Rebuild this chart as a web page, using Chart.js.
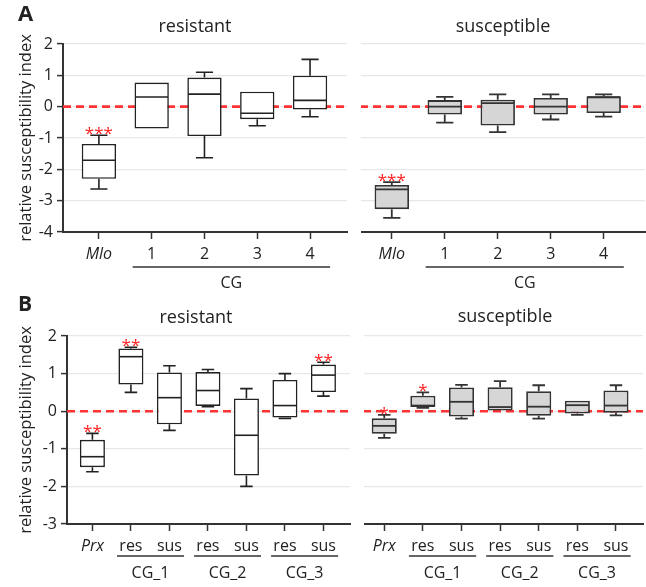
<!DOCTYPE html>
<html>
<head>
<meta charset="utf-8">
<title>relative susceptibility index</title>
<script src="https://cdn.jsdelivr.net/npm/chart.js@4.4.0/dist/chart.umd.min.js"></script>
<style>
    html, body { margin: 0; padding: 0; background: #fff; }
    #page { position: relative; width: 646px; height: 587px; overflow: hidden; font-family: 'Open Sans', sans-serif; color: #222; }
    canvas { position: absolute; }
    .letter { position: absolute; font-weight: 700; line-height: 1; }
    .title { position: absolute; font-size: 18px; line-height: 1; transform: translate(-50%, -50%); white-space: nowrap; }
</style>
</head>
<body>
<div id="page">
    <canvas id="aRes" width="352" height="295" style="left:0;top:0;clip-path:inset(0 3px 0 0)"></canvas>
    <canvas id="aSus" width="294" height="295" style="left:352px;top:0;clip-path:inset(0 0 0 9px)"></canvas>
    <canvas id="bRes" width="352" height="292" style="left:0;top:295px;clip-path:inset(0 1px 0 0)"></canvas>
    <canvas id="bSus" width="294" height="292" style="left:352px;top:295px;clip-path:inset(0 0 0 12px)"></canvas>

    <div class="letter" style="left:18px;top:1px;font-size:22px">A</div>
    <div class="title" style="left:195px;top:25px">resistant</div>
    <div class="title" style="left:503px;top:25px">susceptible</div>
    <div class="letter" style="left:18px;top:293px;font-size:21px">B</div>
    <div class="title" style="left:196px;top:316px">resistant</div>
    <div class="title" style="left:505px;top:315px">susceptible</div>
</div>
<script>
// x categories
const mloLabels = ['Mlo', '1', '2', '3', '4'];
const prxLabels = ['Prx', 'res', 'sus', 'res', 'sus', 'res', 'sus'];

// group labels under the x axis: [label, first index, last index]
const aGroups = [['CG', 1, 4]];
const bGroups = [['CG_1', 1, 2], ['CG_2', 3, 4], ['CG_3', 5, 6]];

// y axis range
const aTicks = [2, 1, 0, -1, -2, -3, -4];
const bTicks = [2, 1, 0, -1, -2, -3];

// box values, one row per category: [min, q1, median, q3, max]
const aResistant = [
    [-2.63, -2.30, -1.71, -1.19, -0.91],
    [-0.70, -0.70, 0.31, 0.77, 0.77],
    [-1.63, -0.94, 0.40, 0.93, 1.10],
    [-0.61, -0.40, -0.21, 0.48, 0.48],
    [-0.32, -0.09, 0.20, 0.99, 1.51]
];
const aSusceptible = [
    [-3.55, -3.27, -2.64, -2.50, -2.41],
    [-0.51, -0.25, 0.00, 0.21, 0.31],
    [-0.81, -0.60, 0.11, 0.22, 0.39],
    [-0.41, -0.25, 0.00, 0.28, 0.39],
    [-0.32, -0.20, 0.30, 0.33, 0.39]
];
const bResistant = [
    [-1.61, -1.49, -1.21, -0.76, -0.59],
    [0.50, 0.71, 1.45, 1.67, 1.70],
    [-0.51, -0.35, 0.36, 1.03, 1.21],
    [0.12, 0.14, 0.55, 1.04, 1.11],
    [-2.00, -1.71, -0.64, 0.34, 0.60],
    [-0.19, -0.17, 0.15, 0.83, 1.00],
    [0.40, 0.51, 0.96, 1.24, 1.30]
];
const bSusceptible = [
    [-0.71, -0.60, -0.39, -0.19, -0.10],
    [0.09, 0.11, 0.15, 0.41, 0.50],
    [-0.20, -0.14, 0.25, 0.63, 0.70],
    [0.02, 0.02, 0.11, 0.64, 0.80],
    [-0.20, -0.12, 0.12, 0.53, 0.69],
    [-0.10, -0.06, 0.16, 0.28, 0.28],
    [-0.11, -0.04, 0.15, 0.55, 0.69]
];

// significance marks above each box
const aResStars = ['***', '', '', '', ''];
const aSusStars = ['***', '', '', '', ''];
const bResStars = ['**', '**', '', '', '', '', '**'];
const bSusStars = ['*', '*', '', '', '', '', ''];

const FONT = "'Open Sans', sans-serif";

// Whiskers, medians, stars and the group labels below the axis
const boxWhiskerPlugin = {
    id: 'boxWhisker',
    afterDatasetsDraw(chart, args, opts) {
        const { ctx } = chart;
        const yScale = chart.scales.y;
        const meta = chart.getDatasetMeta(0);
        const lw = opts.lineWidth;

        ctx.save();
        ctx.strokeStyle = opts.stroke;
        ctx.lineWidth = lw;
        meta.data.forEach((bar, i) => {
            const [min, q1, med, q3, max] = opts.stats[i];
            const { x, width } = bar.getProps(['x', 'width'], true);
            const half = width / 2 - lw / 2;
            const cap = width / 4;
            const yMin = yScale.getPixelForValue(min);
            const yQ1 = yScale.getPixelForValue(q1);
            const yMed = yScale.getPixelForValue(med);
            const yQ3 = yScale.getPixelForValue(q3);
            const yMax = yScale.getPixelForValue(max);

            // median
            ctx.beginPath();
            ctx.moveTo(x - half, yMed);
            ctx.lineTo(x + half, yMed);
            ctx.stroke();

            // whiskers with caps
            if (max > q3) {
                ctx.beginPath();
                ctx.moveTo(x, yQ3);
                ctx.lineTo(x, yMax);
                ctx.moveTo(x - cap, yMax);
                ctx.lineTo(x + cap, yMax);
                ctx.stroke();
            }
            if (min < q1) {
                ctx.beginPath();
                ctx.moveTo(x, yQ1);
                ctx.lineTo(x, yMin);
                ctx.moveTo(x - cap, yMin);
                ctx.lineTo(x + cap, yMin);
                ctx.stroke();
            }

            if (opts.stars[i]) {
                ctx.fillStyle = '#ff2020';
                ctx.font = '17px ' + FONT;
                ctx.textAlign = 'center';
                ctx.textBaseline = 'alphabetic';
                ctx.fillText(opts.stars[i], x, yMax + 4);
            }
        });
        ctx.restore();
    },
    afterDraw(chart, args, opts) {
        const { ctx } = chart;
        const xScale = chart.scales.x;
        ctx.save();
        ctx.strokeStyle = '#333';
        ctx.lineWidth = 1.5;
        ctx.fillStyle = '#222';
        ctx.font = '16px ' + FONT;
        ctx.textAlign = 'center';
        ctx.textBaseline = 'middle';
        opts.groups.forEach(([label, from, to]) => {
            const x0 = xScale.getPixelForValue(from - 0.36);
            const x1 = xScale.getPixelForValue(to + 0.38);
            const yLine = xScale.top + opts.lineOffset;
            ctx.beginPath();
            ctx.moveTo(x0, yLine);
            ctx.lineTo(x1, yLine);
            ctx.stroke();
            ctx.fillText(label, (x0 + x1) / 2, xScale.top + opts.labelOffset);
        });
        ctx.restore();
    }
};

function makePanel(canvasId, p) {
    const canvas = document.getElementById(canvasId);
    const ctx = canvas.getContext('2d');

    const yAxis = {
        min: p.ticks[p.ticks.length - 1],
        max: p.ticks[0],
        afterFit: (scale) => { scale.width = p.yWidth; },
        grid: { color: '#e8e8e8', lineWidth: 1.2, drawTicks: false },
        ticks: { display: false, stepSize: 1 },
        border: { display: false }
    };
    if (p.showY) {
        yAxis.border = { display: true, color: '#333', width: 2 };
        yAxis.grid = { color: '#e8e8e8', lineWidth: 1.2, drawTicks: true, tickLength: 6, tickColor: '#333', tickWidth: 1.5 };
        yAxis.ticks = { display: true, stepSize: 1, padding: 4, color: '#222', font: { family: FONT, size: 16 } };
        yAxis.title = {
            display: true,
            text: 'relative susceptibility index',
            color: '#222',
            font: { family: FONT, size: 16.5 },
            padding: { top: 16, bottom: 0 }
        };
    }

    return new Chart(ctx, {
        type: 'bar',
        data: {
            datasets: [
                {
                    label: 'box',
                    data: p.stats.map((s, i) => ({ x: i, y: [s[1], s[3]] })),
                    backgroundColor: p.fill,
                    borderColor: p.stroke,
                    borderWidth: p.lineWidth,
                    borderSkipped: false,
                    barPercentage: 0.65,
                    categoryPercentage: 1,
                    order: 1
                },
                {
                    type: 'line',
                    label: 'zero',
                    data: [{ x: p.xMin, y: 0 }, { x: p.xMax, y: 0 }],
                    borderColor: '#ff3333',
                    borderWidth: 2.6,
                    borderDash: [8, 5],
                    pointRadius: 0,
                    order: 2
                }
            ]
        },
        options: {
            responsive: false,
            animation: false,
            layout: { padding: p.padding },
            plugins: {
                legend: { display: false },
                tooltip: { enabled: false },
                boxWhisker: {
                    stats: p.stats,
                    stars: p.stars,
                    groups: p.groups,
                    stroke: p.stroke,
                    lineWidth: p.lineWidth,
                    lineOffset: p.lineOffset,
                    labelOffset: p.labelOffset
                }
            },
            scales: {
                x: {
                    type: 'linear',
                    offset: false,
                    min: p.xMin,
                    max: p.xMax,
                    afterFit: (scale) => { scale.height = p.xHeight; },
                    border: { color: '#333', width: 2 },
                    grid: { offset: false, drawOnChartArea: false, tickLength: 7, tickColor: '#333', tickWidth: 1.5 },
                    ticks: {
                        stepSize: 1,
                        includeBounds: false,
                        autoSkip: false,
                        maxRotation: 0,
                        padding: 6,
                        color: '#222',
                        font: (c) => ({ family: FONT, size: 16, style: c.index === 0 ? 'italic' : 'normal' }),
                        callback: (v) => p.labels[v] !== undefined ? p.labels[v] : ''
                    }
                },
                y: yAxis
            }
        },
        plugins: [boxWhiskerPlugin]
    });
}

const whiteBox = { fill: '#ffffff', stroke: '#222', lineWidth: 1.6 };
const greyBox = { fill: '#d6d6d6', stroke: '#333', lineWidth: 1.8 };

makePanel('aRes', Object.assign({
    stats: aResistant, stars: aResStars, labels: mloLabels, groups: aGroups, ticks: aTicks,
    xMin: -0.68, xMax: 4.7, showY: true, yWidth: 63, xHeight: 63,
    padding: { top: 44, right: 5, bottom: 0, left: 0 },
    lineOffset: 35, labelOffset: 51
}, whiteBox));

makePanel('aSus', Object.assign({
    stats: aSusceptible, stars: aSusStars, labels: mloLabels, groups: aGroups, ticks: aTicks,
    xMin: -0.6, xMax: 4.78, showY: false, yWidth: 0, xHeight: 63,
    padding: { top: 44, right: 1, bottom: 0, left: 8 },
    lineOffset: 35, labelOffset: 51
}, greyBox));

makePanel('bRes', Object.assign({
    stats: bResistant, stars: bResStars, labels: prxLabels, groups: bGroups, ticks: bTicks,
    xMin: -0.66, xMax: 6.69, showY: true, yWidth: 67, xHeight: 63,
    padding: { top: 41, right: 2, bottom: 0, left: 0 },
    lineOffset: 32, labelOffset: 49
}, whiteBox));

makePanel('bSus', Object.assign({
    stats: bSusceptible, stars: bSusStars, labels: prxLabels, groups: bGroups, ticks: bTicks,
    xMin: -0.55, xMax: 6.7, showY: false, yWidth: 0, xHeight: 63,
    padding: { top: 41, right: 3, bottom: 0, left: 11 },
    lineOffset: 32, labelOffset: 49
}, greyBox));
</script>
</body>
</html>
